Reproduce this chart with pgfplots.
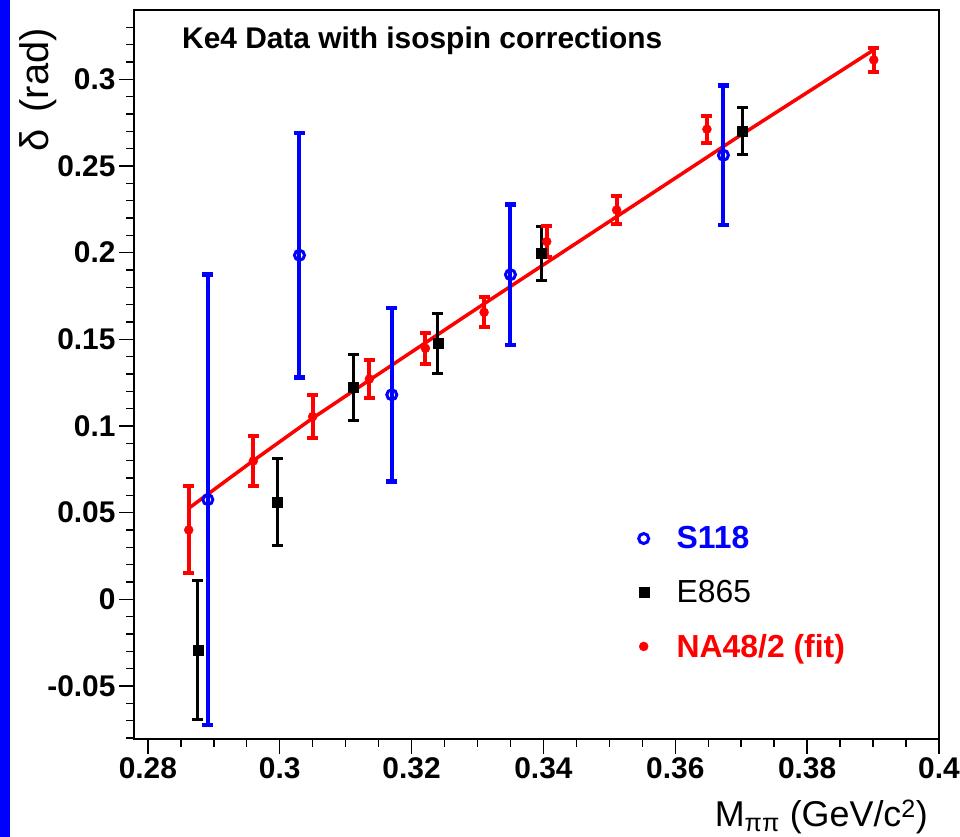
\documentclass[border=0pt]{standalone}
\usepackage{fontspec}
\setmainfont{Liberation Sans}
\usepackage{pgfplots}
\pgfplotsset{compat=1.18}
\usepackage{pgfplotstable}

\pgfplotstableread{
x y ey
0.2891 0.0575 0.1300
0.3030 0.1985 0.0705
0.3170 0.1180 0.0500
0.3350 0.1873 0.0405
0.3673 0.2562 0.0402
}\sone

\pgfplotstableread{
x y ey
0.2876 -0.0293 0.0403
0.2996 0.0563 0.0252
0.3112 0.1223 0.0190
0.3240 0.1477 0.0173
0.3397 0.1995 0.0155
0.3702 0.2702 0.0138
}\etwo

\pgfplotstableread{
x y ey
0.2862 0.0400 0.0251
0.2960 0.0798 0.0144
0.3050 0.1054 0.0123
0.3136 0.1271 0.0110
0.3221 0.1448 0.0090
0.3310 0.1656 0.0087
0.3405 0.2064 0.0091
0.3511 0.2246 0.0080
0.3648 0.2712 0.0079
0.3901 0.3112 0.0070
}\nafour

\begin{document}
\begin{tikzpicture}[x=1bp,y=1bp]
\path[use as bounding box] (0,0) rectangle (960,837);
\fill[blue] (0,0) rectangle (9.5,837);
\begin{axis}[
  at={(134bp,98bp)}, anchor=south west,
  scale only axis, width=805bp, height=729bp,
  xmin=0.2779, xmax=0.4, ymin=-0.0806, ymax=0.34,
  axis line style={line width=1.5bp},
  tick style={black, line width=1.5bp},
  tick align=outside,
  xtick pos=left, ytick pos=left,
  major tick length=15bp, minor tick length=8bp,
  xtick={0.28,0.3,0.32,0.34,0.36,0.38,0.4},
  xticklabels={0.28,0.3,0.32,0.34,0.36,0.38,0.4},
  ytick={-0.05,0,0.05,0.1,0.15,0.2,0.25,0.3},
  yticklabels={-0.05,0,0.05,0.1,0.15,0.2,0.25,0.3},
  minor xtick={0.285,0.29,0.295,0.305,0.31,0.315,0.325,0.33,0.335,0.345,0.35,0.355,0.365,0.37,0.375,0.385,0.39,0.395},
  minor ytick={-0.08,-0.07,-0.06,-0.04,-0.03,-0.02,-0.01,0.01,0.02,0.03,0.04,0.06,0.07,0.08,0.09,0.11,0.12,0.13,0.14,0.16,0.17,0.18,0.19,0.21,0.22,0.23,0.24,0.26,0.27,0.28,0.29,0.31,0.32,0.33},
  ticklabel style={font=\fontsize{30}{30}\selectfont\bfseries},
  legend style={draw=none, fill=none, at={(rel axis cs:0.623,0.297)}, anchor=north west,
    font=\fontsize{32}{32}\selectfont\bfseries, row sep=26bp,
    /tikz/every odd column/.append style={column sep=26bp}},
  legend cell align=left,
]
% fit curve
\addplot[red, line width=3.5bp, no marks, forget plot] coordinates {
(0.2862,0.0525) (0.2900,0.0632) (0.2960,0.0800) (0.3050,0.1045) (0.3150,0.1300)
(0.3300,0.1680) (0.3500,0.2180) (0.3700,0.2680) (0.3901,0.3170)};
% E865
\addplot[black, only marks, mark=square*, mark size=5bp, forget plot,
  error bars/.cd, y dir=both, y explicit, error mark=|,
  error bar style={line width=3bp, black},
  error mark options={line width=3bp, mark size=5.5bp, black}]
  table[x=x, y=y, y error=ey]{\etwo};
% NA48/2
\addplot[red, only marks, mark=*, mark size=4.5bp, forget plot,
  error bars/.cd, y dir=both, y explicit, error mark=|,
  error bar style={line width=4bp, red},
  error mark options={line width=4bp, mark size=5.5bp, red}]
  table[x=x, y=y, y error=ey]{\nafour};
% S118
\addplot[blue, only marks, mark=o, mark size=5bp, mark options={line width=3bp, fill=white}, forget plot,
  error bars/.cd, y dir=both, y explicit, error mark=|,
  error bar style={line width=4bp, blue},
  error mark options={line width=4.5bp, mark size=5.5bp, blue}]
  table[x=x, y=y, y error=ey]{\sone};

\addlegendimage{blue, only marks, mark=o, mark size=5bp, mark options={line width=3bp}}
\addlegendentry{\textcolor{blue}{S118}}
\addlegendimage{black, only marks, mark=square*, mark size=5bp}
\addlegendentry{\mdseries E865}
\addlegendimage{red, only marks, mark=*, mark size=4.5bp}
\addlegendentry{\textcolor{red}{NA48/2 (fit)}}

\node[anchor=west, inner sep=0, font=\fontsize{30}{30}\selectfont\bfseries]
  at (rel axis cs:0.0596,0.9575) {Ke4 Data with isospin corrections};
\end{axis}
\node[anchor=east, inner sep=0, font=\fontsize{36}{36}\selectfont] at (928,20)
  {M\textsubscript{ππ} (GeV/c\textsuperscript{2})};
\node[rotate=90, anchor=east, inner sep=0, font=\fontsize{40}{40}\selectfont] at (38,809)
  {δ\hspace{6bp} (rad)};
\end{tikzpicture}
\end{document}
